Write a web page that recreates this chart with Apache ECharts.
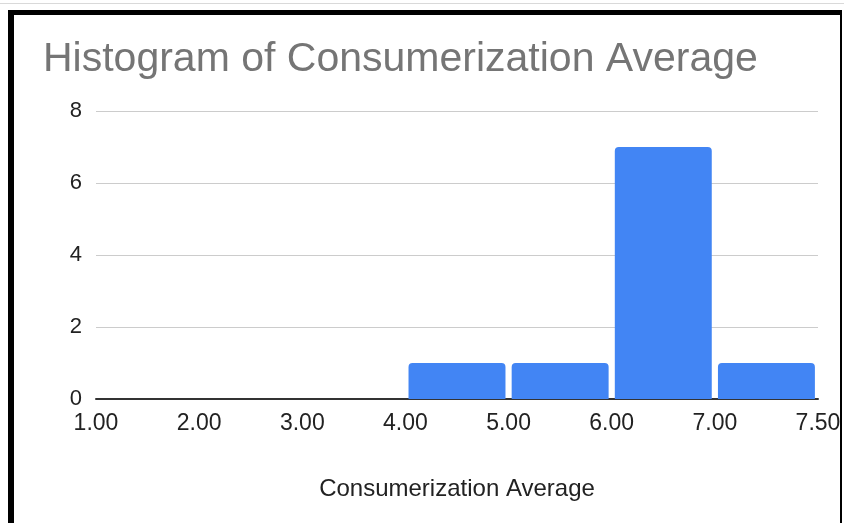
<!DOCTYPE html>
<html>
<head>
<meta charset="utf-8">
<script src="https://cdn.jsdelivr.net/npm/echarts@6/dist/echarts.min.js"></script>
<style>
  html, body { margin: 0; padding: 0; background: #fff; width: 844px; height: 523px; overflow: hidden; }
  #topline { position: absolute; left: 0; top: 3px; width: 844px; height: 1px; background: #d9d9d9; }
  #frame {
    position: absolute; left: 8px; top: 10px; width: 826px; height: 513px;
    border-left: 6px solid #000; border-top: 5px solid #000; border-right: 2px solid #000;
  }
  #chart { position: absolute; left: 0; top: 0; width: 844px; height: 523px; }
</style>
</head>
<body>
<div id="topline"></div>
<div id="frame"></div>
<div id="chart"></div>
<script>
// Histogram buckets of the consumerization average scores
const binNames = ['1-2', '2-3', '3-4', '4-5', '5-6', '6-7', '7-7.5'];
const binCounts = [0, 0, 0, 1, 1, 7, 1];
const edgeLabels = ['1.00', '2.00', '3.00', '4.00', '5.00', '6.00', '7.00', '7.50'];
const yTicks = [0, 2, 4, 6, 8];

const FONT = '"Liberation Sans", Arial, sans-serif';

const chart = echarts.init(document.getElementById('chart'), null, { renderer: 'canvas' });

chart.setOption({
  animation: false,
  backgroundColor: 'transparent',
  title: {
    text: 'Histogram of Consumerization Average',
    left: 38,
    top: 34,
    textStyle: { color: '#757575', fontSize: 41, fontWeight: 'normal', fontFamily: FONT }
  },
  grid: { left: 96, right: 26, top: 111, bottom: 124, containLabel: false },
  xAxis: [
    {
      // bucket axis that places the bars
      type: 'category',
      data: binNames,
      boundaryGap: true,
      show: false,
      position: 'bottom'
    },
    {
      // bucket-edge axis that carries the labels
      type: 'value',
      position: 'bottom',
      min: 0,
      max: edgeLabels.length - 1,
      interval: 1,
      name: 'Consumerization Average',
      nameLocation: 'middle',
      nameGap: 78,
      nameTextStyle: { color: '#222', fontSize: 24, fontFamily: FONT },
      axisLine: { show: true, onZero: false, lineStyle: { color: '#333', width: 2 } },
      axisTick: { show: false },
      splitLine: { show: false },
      axisLabel: {
        color: '#222', fontSize: 23, fontFamily: FONT, margin: 13,
        showMinLabel: true, showMaxLabel: true,
        formatter: v => edgeLabels[Math.round(v)]
      }
    }
  ],
  yAxis: {
    type: 'value',
    min: yTicks[0],
    max: yTicks[yTicks.length - 1],
    interval: yTicks[1] - yTicks[0],
    axisLine: { show: false },
    axisTick: { show: false },
    splitLine: { lineStyle: { color: '#cccccc', width: 1 } },
    axisLabel: { color: '#222', fontSize: 22, fontFamily: FONT, margin: 14 }
  },
  series: [{
    type: 'bar',
    xAxisIndex: 0,
    data: binCounts,
    barCategoryGap: '6%',
    itemStyle: { color: '#4285f4', borderRadius: [4, 4, 0, 0] }
  }]
});
</script>
</body>
</html>
